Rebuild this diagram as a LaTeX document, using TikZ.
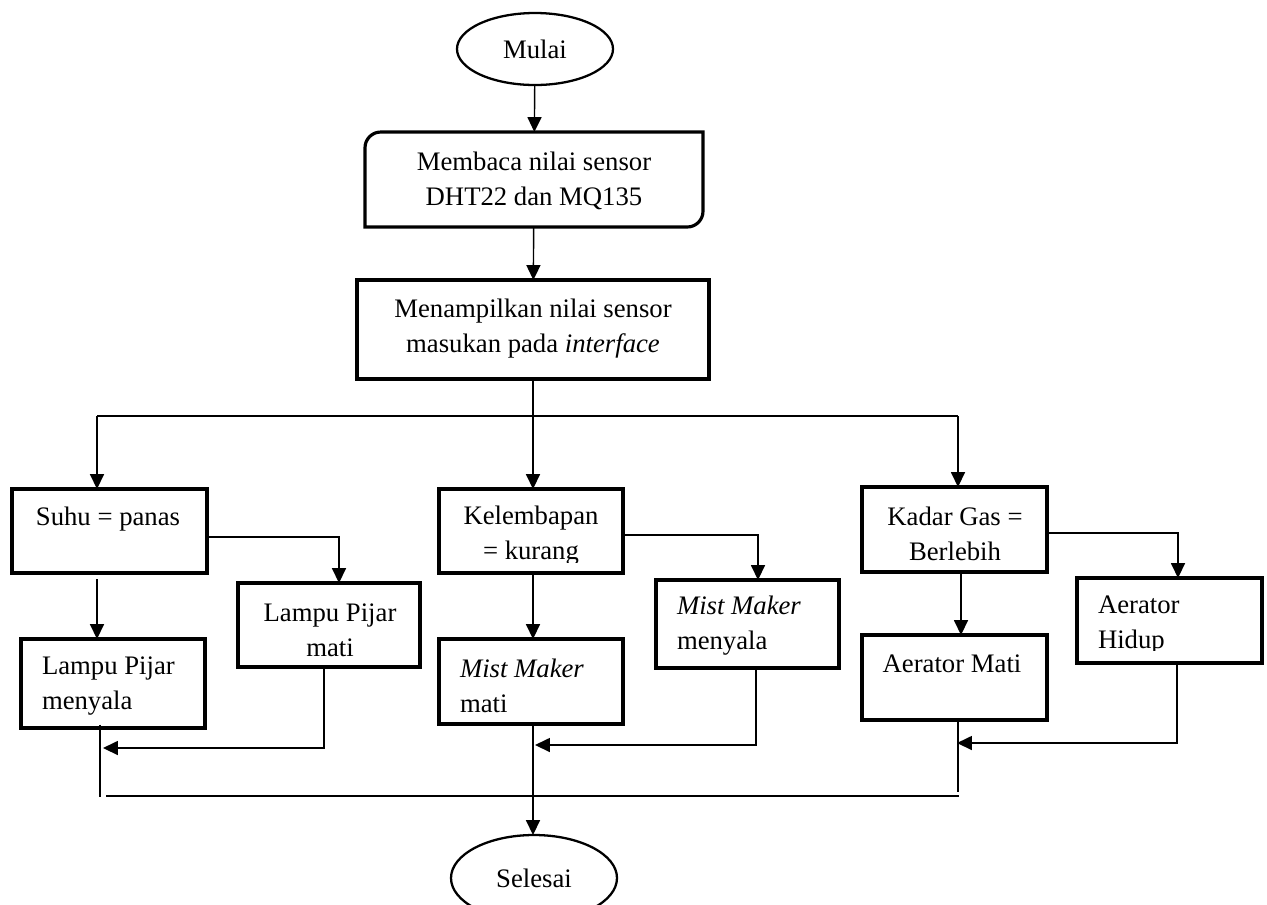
\documentclass[tikz,border=0pt]{standalone}
\usepackage{fontspec}
\setmainfont{Liberation Serif}
\usetikzlibrary{arrows.meta,shapes.geometric}
\def\pxlen{0.02cm}
\tikzset{
  boxbase/.style={inner sep=0pt, outer sep=0pt},
  boxline/.style={line width=1.8pt, line join=miter},
  procbox/.style={boxbase, draw, boxline},
  termin/.style={ellipse, draw, line width=1.3pt, inner sep=0pt, outer sep=0pt, font=\fontsize{15.2}{20}\selectfont},
  txt/.style={inner sep=0pt, outer sep=0pt, font=\fontsize{15.2}{20}\selectfont},
  conn/.style={line width=0.8pt},
  arr/.style={conn, -{Triangle[length=8.5pt,width=8pt]}},
}
\begin{document}
\begin{tikzpicture}[x=0.02cm,y=-0.02cm]
\useasboundingbox (0,0) rectangle (1267,904);

% terminals
\node[termin, minimum width=156*\pxlen, minimum height=72*\pxlen] (mulai) at (535,49) {\raisebox{-2.2pt}{Mulai}};
\node[termin, minimum width=166*\pxlen, minimum height=86*\pxlen] (selesai) at (534,878) {\raisebox{-1.5pt}{Selesai}};

% read box (rounded top-left and bottom-right)
\node[boxbase, minimum width=338*\pxlen, minimum height=95*\pxlen] (read) at (534,179.5) {};
\draw[boxline] (read.south west) -- ([yshift=-9pt]read.north west)
  .. controls ([yshift=-4pt]read.north west) and ([xshift=4pt]read.north west) .. ([xshift=9pt]read.north west)
  -- (read.north east) -- ([yshift=9pt]read.south east)
  .. controls ([yshift=4pt]read.south east) and ([xshift=-4pt]read.south east) .. ([xshift=-9pt]read.south east)
  -- cycle;
\node[txt, align=center] (readt) at (534,181) {Membaca nilai sensor\\DHT22 dan MQ135};

% show box
\node[procbox, minimum width=352*\pxlen, minimum height=99*\pxlen] (show) at (533,329.5) {};
\node[txt, align=center] (showt) at (533,328.5) {Menampilkan nilai sensor\\masukan pada \textit{interface}};

% level boxes
\node[procbox, minimum width=195*\pxlen, minimum height=84*\pxlen] (suhu) at (109.5,531) {};
\node[txt] (suhut) at (108,519) {Suhu = panas};

\node[procbox, minimum width=182*\pxlen, minimum height=84*\pxlen] (lpmati) at (329,625) {};
\node[txt, align=center] (lpmatit) at (330,630) {Lampu Pijar\\mati};

\node[procbox, minimum width=184*\pxlen, minimum height=89*\pxlen] (lpnyala) at (113,683.5) {};
\node[txt, align=left, anchor=west] (lpnyalat) at (42,686) {Lampu Pijar\\menyala};

\node[procbox, minimum width=184*\pxlen, minimum height=84*\pxlen] (kel) at (531,531) {};
\begin{scope}
  \clip (kel.north west) rectangle ([yshift=6.2pt]kel.south east);
  \node[txt, align=center] (kelt) at (531,536) {Kelembapan\\= kurang};
\end{scope}

\node[procbox, minimum width=183*\pxlen, minimum height=88*\pxlen] (mmon) at (747.5,624) {};
\node[txt, align=left, anchor=west] (mmont) at (677,626) {\textit{Mist Maker}\\menyala};

\node[procbox, minimum width=184*\pxlen, minimum height=85*\pxlen] (mmoff) at (531,681.5) {};
\node[txt, align=left, anchor=west] (mmofft) at (460,686) {\textit{Mist Maker}\\mati};

\node[procbox, minimum width=185*\pxlen, minimum height=85*\pxlen] (kadar) at (954.5,529.5) {};
\node[txt, align=center] (kadart) at (955,534) {Kadar Gas =\\Berlebih};

\node[procbox, minimum width=185*\pxlen, minimum height=85*\pxlen] (aon) at (1169.5,620.5) {};
\begin{scope}
  \clip (aon.north west) rectangle ([yshift=7.4pt]aon.south east);
  \node[txt, align=left, anchor=west] (aont) at (1098,625) {Aerator\\Hidup};
\end{scope}

\node[procbox, minimum width=185*\pxlen, minimum height=85*\pxlen] (aoff) at (954.5,677.5) {};
\node[txt] (aofft) at (952,664) {Aerator Mati};

% coordinates
\coordinate (jl) at (97,416);
\coordinate (jc) at (533,416);
\coordinate (jr) at (958,416);
\coordinate (s1) at (339,537);
\coordinate (s2) at (97,579);
\coordinate (m1) at (100,797);
\coordinate (m2b) at (324,748);
\coordinate (m2) at (103,748);
\coordinate (k1) at (758,535);
\coordinate (k2) at (533,573);
\coordinate (k3b) at (756,745);
\coordinate (k3) at (535,745);
\coordinate (g1) at (1178,533);
\coordinate (g2) at (961,572);
\coordinate (g3) at (958,792);
\coordinate (g4b) at (1177,743);
\coordinate (g4) at (957,743);
\coordinate (bl) at (106,796);
\coordinate (br) at (959,796);

% connectors
\draw[arr] (mulai) -- (read);
\draw[arr] (read) -- (show);
\draw[conn] (show.south) -- (jc);
\draw[conn] (jl) -- (jr);
\draw[arr] (jl) -- (jl |- suhu.north);
\draw[arr] (jc) -- (jc |- kel.north);
\draw[arr] (jr) -- (jr |- kadar.north);

\draw[arr] (suhu.east |- s1) -| (s1 |- lpmati.north);
\draw[arr] (s2) -- (s2 |- lpnyala.north);
\draw[conn] ([yshift=2pt]m1 |- lpnyala.south) -- (m1);
\draw[arr] (m2b |- lpmati.south) -- (m2b) -- (m2);

\draw[arr] (kel.east |- k1) -| (k1 |- mmon.north);
\draw[arr] (k2) -- (k2 |- mmoff.north);
\draw[arr] (k2 |- mmoff.south) -- (k2 |- selesai.north);
\draw[arr] (k3b |- mmon.south) -- (k3b) -- (k3);

\draw[arr] (kadar.east |- g1) -| (g1 |- aon.north);
\draw[arr] (g2) -- (g2 |- aoff.north);
\draw[conn] (g3 |- aoff.south) -- (g3);
\draw[arr] (g4b |- aon.south) -- (g4b) -- (g4);

\draw[conn] (bl) -- (br);
\end{tikzpicture}
\end{document}
